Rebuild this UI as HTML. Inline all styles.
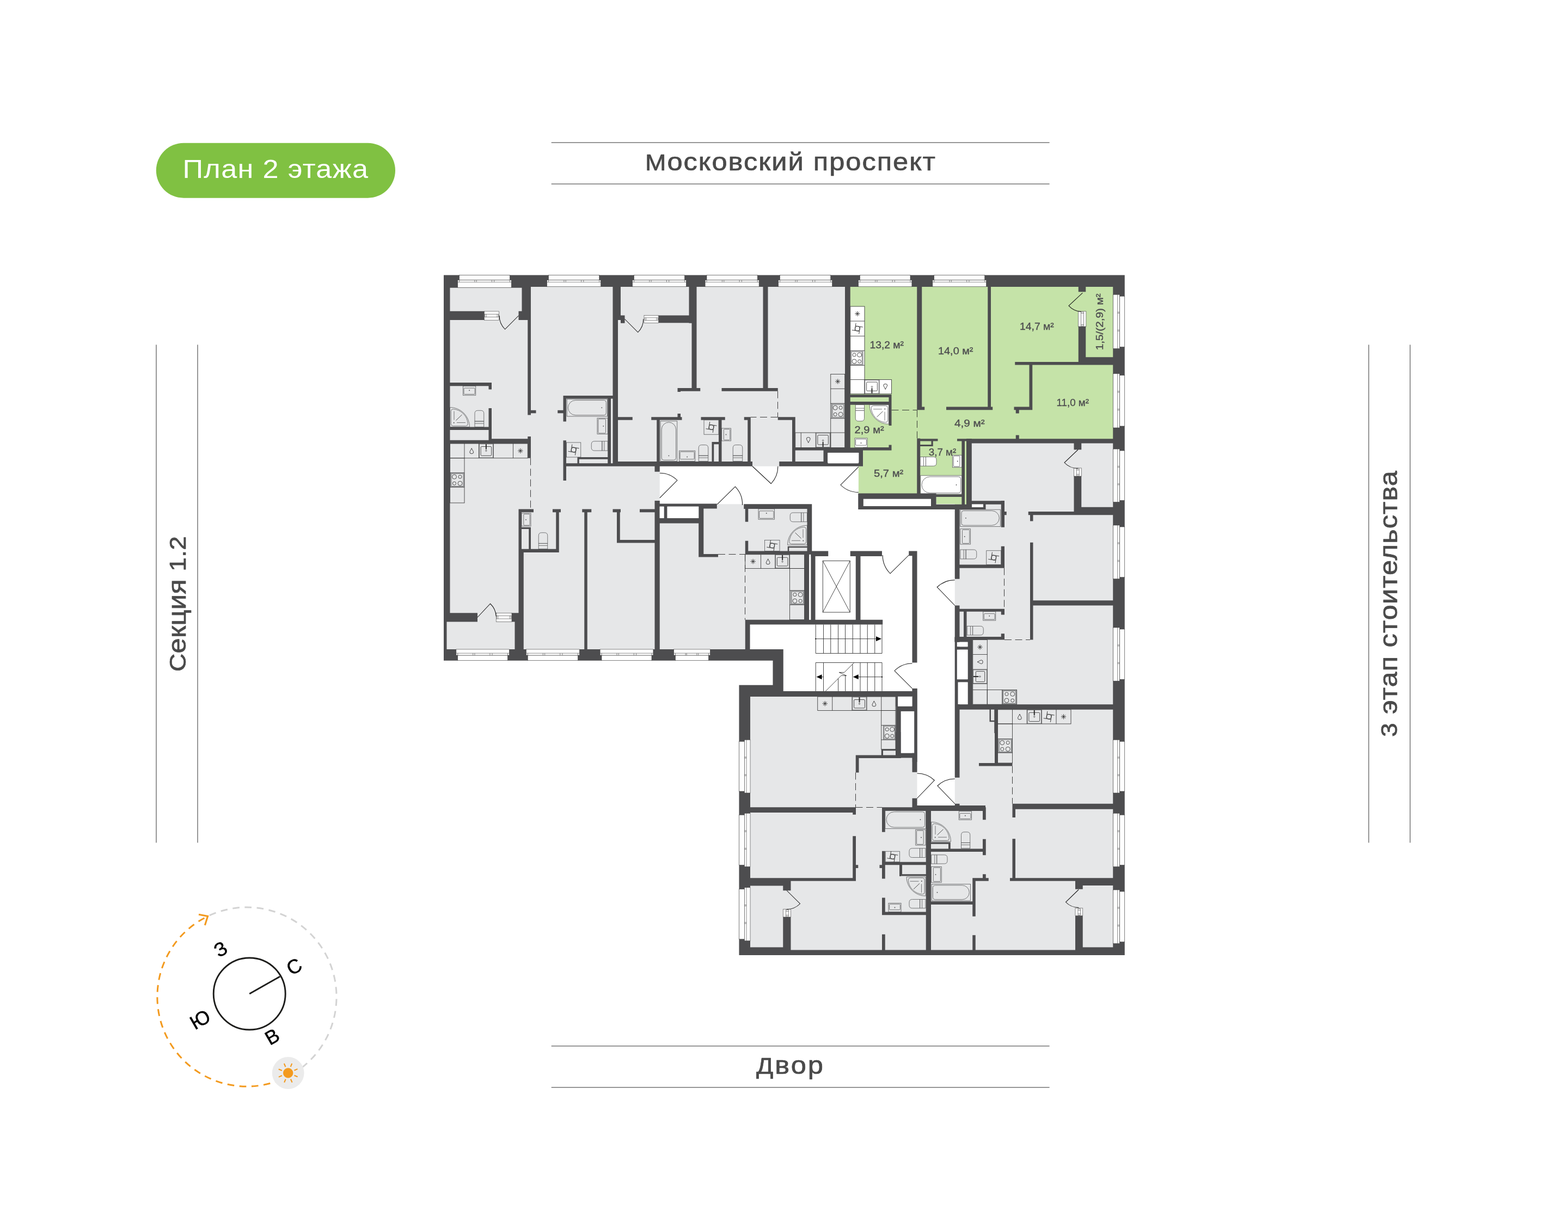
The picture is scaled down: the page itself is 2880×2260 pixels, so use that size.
<!DOCTYPE html>
<html lang="ru"><head><meta charset="utf-8"><title>План 2 этажа</title>
<style>
html,body{margin:0;padding:0;background:#fff;}
body{width:2880px;height:2260px;overflow:hidden;font-family:"Liberation Sans",sans-serif;}
svg{display:block;will-change:transform;}
</style></head><body>
<svg width="2880" height="2260" viewBox="0 0 2880 2260">
<rect width="2880" height="2260" fill="#fff"/>
<g id="labels" font-family="'Liberation Sans', sans-serif" font-size="46" fill="#4a4a4a" stroke="#4a4a4a" stroke-width="0.7" stroke-linejoin="round">
<rect x="286.8" y="262.7" width="439.2" height="101" rx="50.5" fill="#80c142" stroke="none"/>
<text transform="translate(335.5 327.2) scale(1.1 1)" font-size="47.5" fill="#fff" stroke="none" textLength="309.55" lengthAdjust="spacing">План 2 этажа</text>
<rect x="1012.7" y="261.1" width="914.9" height="1.8" fill="#8c8c8c" stroke="none"/>
<rect x="1012.7" y="337.1" width="914.9" height="1.8" fill="#8c8c8c" stroke="none"/>
<rect x="1012.7" y="1921.1" width="914.9" height="1.8" fill="#8c8c8c" stroke="none"/>
<rect x="1012.7" y="1997.1" width="914.9" height="1.8" fill="#8c8c8c" stroke="none"/>
<text transform="translate(1185 313) scale(1.1 1)" textLength="484.55" lengthAdjust="spacing"><tspan font-size="42">М</tspan>осковский проспект</text>
<text transform="translate(1389 1972.8) scale(1.1 1)" textLength="111.82" lengthAdjust="spacing"><tspan font-size="42">Д</tspan>вор</text>
<rect x="286.1" y="633.4" width="1.8" height="915" fill="#8c8c8c" stroke="none"/>
<rect x="362.1" y="633.4" width="1.8" height="915" fill="#8c8c8c" stroke="none"/>
<rect x="2513.1" y="633.4" width="1.8" height="915" fill="#8c8c8c" stroke="none"/>
<rect x="2589.1" y="633.4" width="1.8" height="915" fill="#8c8c8c" stroke="none"/>
<text transform="translate(341 1234) rotate(-90) scale(1.1 1)" textLength="226.36" lengthAdjust="spacing"><tspan font-size="42">С</tspan>екция <tspan font-size="42">1.2</tspan></text>
<text transform="translate(2565.5 1354) rotate(-90) scale(1.1 1)" textLength="444.55" lengthAdjust="spacing"><tspan font-size="42">3</tspan> этап стоительства</text>
</g>
<g id="compass" fill="none">
<path d="M381.33 1683.67A164.6 164.6 0 0 1 531.83 1976.37" stroke="#d3d3d3" stroke-width="3" stroke-dasharray="12.6 9.6" stroke-dashoffset="-4"/>
<path d="M531.83 1976.37A164.6 164.6 0 1 1 381.33 1683.67" stroke="#f39a1e" stroke-width="3" stroke-dasharray="12.6 9.6" stroke-dashoffset="6"/>
<path d="M365 1680.2L381.6 1683.4L376.4 1700" stroke="#f39a1e" stroke-width="3.1" stroke-linecap="butt" stroke-linejoin="miter"/>
<circle cx="529.2" cy="1971.5" r="29.4" fill="#ebebeb"/>
<circle cx="529.2" cy="1971.5" r="9.2" fill="#f39a1e"/>
<path d="M540.51 1976.07L546.63 1978.54M533.97 1982.73L536.55 1988.81M524.63 1982.81L522.16 1988.93M517.97 1976.27L511.89 1978.85M517.89 1966.93L511.77 1964.46M524.43 1960.27L521.85 1954.19M533.77 1960.19L536.24 1954.07M540.43 1966.73L546.51 1964.15" stroke="#f39a1e" stroke-width="2.1"/>
<circle cx="458.2" cy="1826" r="66" stroke="#1d1d1b" stroke-width="2.9"/>
<line x1="458.2" y1="1826" x2="514.3" y2="1794.2" stroke="#1d1d1b" stroke-width="2.9"/>
</g>
<g id="compass-letters" font-family="'Liberation Sans', sans-serif" font-size="36" fill="#000" stroke="#000" stroke-width="0.5" text-anchor="middle">
<text transform="translate(405 1743.8) rotate(-30)" y="12.8">З</text>
<text transform="translate(540 1775.7) rotate(-30)" y="12.8">С</text>
<text transform="translate(367.4 1872.9) rotate(-30)" y="12.8">Ю</text>
<text transform="translate(499.8 1904.5) rotate(-30)" y="12.8">В</text>
</g>
<g id="fills">
<path d="M815 505.5H2065.75V1755H1357.5V1258.75H1419.5V1213.75H815Z" fill="#e6e7e8"/>
<path d="M1556 520H2050V810H1780V926.8H1719.5V908H1576.8V857H1585V826H1556Z" fill="#c5e3a8"/>
<rect x="1211.75" y="856.75" width="365.05" height="69.5" fill="#fff"/>
<rect x="1487" y="926" width="266.75" height="91" fill="#fff"/>
<rect x="1576" y="1012.5" width="177.75" height="262.5" fill="#fff"/>
<rect x="1684.5" y="1270" width="69.25" height="210" fill="#fff"/>
<rect x="1493" y="1017" width="83" height="126" fill="#fff"/>
<rect x="1377.5" y="1143" width="302.5" height="132" fill="#fff"/>
</g>
<g id="fixtures" stroke="#58595b" stroke-width="0.8" fill="none">
<rect x="826.5" y="815" width="142.75" height="26.75" fill="none" stroke="#2a2a2a"/>
<line x1="853" y1="815" x2="853" y2="841.75" stroke="#2a2a2a"/>
<line x1="879.5" y1="815" x2="879.5" y2="841.75" stroke="#2a2a2a"/>
<line x1="906.25" y1="815" x2="906.25" y2="841.75" stroke="#2a2a2a"/>
<line x1="942.5" y1="815" x2="942.5" y2="841.75" stroke="#2a2a2a"/>
<rect x="826.5" y="841.75" width="26.5" height="82.25" fill="none" stroke="#2a2a2a"/>
<line x1="826.5" y1="868.75" x2="853" y2="868.75" stroke="#2a2a2a"/>
<line x1="826.5" y1="895" x2="853" y2="895" stroke="#2a2a2a"/>
<path d="M866.25 823.58C867.45 826.88 869.65 829.17 869.65 830.98A3.4 2.6 0 0 1 862.85 830.98C862.85 829.17 865.05 826.88 866.25 823.58Z" fill="none" stroke="#2a2a2a" stroke-width="0.9"/>
<rect x="880.3" y="815.8" width="25.15" height="25.15" fill="none"/><rect x="883.1" y="820.5" width="19.55" height="16.75" rx="1.5" fill="none" stroke="#2a2a2a"/><line x1="892.88" y1="816" x2="892.88" y2="825.5" stroke="#2a2a2a" stroke-width="2"/><path d="M892.88 826.5l1.3 1.6l-1.3 1.6l-1.3 -1.6Z" fill="none" stroke="#2a2a2a" stroke-width="0.7"/>
<path d="M951.27 828.38L960.48 828.38M952.62 825.12L959.13 831.63M955.88 823.77L955.88 832.98M959.13 825.12L952.62 831.63" fill="none" stroke="#2a2a2a" stroke-width="0.9"/>
<rect x="827.5" y="868.75" width="25" height="26.25" fill="none"/><rect x="829" y="870.25" width="22" height="23.25" fill="none"/><circle cx="845" cy="876.1" r="3.1" fill="none" stroke="#2a2a2a"/><circle cx="834.5" cy="876.1" r="4" fill="none" stroke="#2a2a2a"/><circle cx="845" cy="888.17" r="4" fill="none" stroke="#2a2a2a"/><circle cx="834.5" cy="888.17" r="3.1" fill="none" stroke="#2a2a2a"/>
<rect x="1525.75" y="687.5" width="26" height="135" fill="none" stroke="#2a2a2a"/>
<line x1="1525.75" y1="714.25" x2="1551.75" y2="714.25" stroke="#2a2a2a"/>
<line x1="1525.75" y1="741.25" x2="1551.75" y2="741.25" stroke="#2a2a2a"/>
<line x1="1525.75" y1="768.75" x2="1551.75" y2="768.75" stroke="#2a2a2a"/>
<line x1="1525.75" y1="795" x2="1551.75" y2="795" stroke="#2a2a2a"/>
<rect x="1460.75" y="795" width="65" height="27.5" fill="none" stroke="#2a2a2a"/>
<line x1="1471.25" y1="795" x2="1471.25" y2="822.5" stroke="#2a2a2a"/>
<line x1="1498.25" y1="795" x2="1498.25" y2="822.5" stroke="#2a2a2a"/>
<path d="M1534.15 700.88L1543.35 700.88M1535.5 697.62L1542 704.13M1538.75 696.27L1538.75 705.48M1542 697.62L1535.5 704.13" fill="none" stroke="#2a2a2a" stroke-width="0.9"/>
<rect x="1527.5" y="741.75" width="23.75" height="26.5" fill="none"/><rect x="1529" y="743.25" width="20.75" height="23.5" fill="none"/><circle cx="1544.12" cy="749.17" r="3.1" fill="none" stroke="#2a2a2a"/><circle cx="1534.15" cy="749.17" r="4" fill="none" stroke="#2a2a2a"/><circle cx="1544.12" cy="761.36" r="4" fill="none" stroke="#2a2a2a"/><circle cx="1534.15" cy="761.36" r="3.1" fill="none" stroke="#2a2a2a"/>
<g transform="rotate(180 1484.75 808.75)"><path d="M1484.75 803.95C1485.95 807.25 1488.15 809.55 1488.15 811.35A3.4 2.6 0 0 1 1481.35 811.35C1481.35 809.55 1483.55 807.25 1484.75 803.95Z" fill="none" stroke="#2a2a2a" stroke-width="0.9"/></g>
<g transform="rotate(180 1511.62 808.75)"><rect x="1499.05" y="795.8" width="25.15" height="25.9" fill="none"/><rect x="1501.85" y="800.5" width="19.55" height="17.5" rx="1.5" fill="none" stroke="#2a2a2a"/><line x1="1511.62" y1="796" x2="1511.62" y2="805.5" stroke="#2a2a2a" stroke-width="2"/><path d="M1511.62 806.5l1.3 1.6l-1.3 1.6l-1.3 -1.6Z" fill="none" stroke="#2a2a2a" stroke-width="0.7"/></g>
<rect x="1561.75" y="563" width="26.25" height="160.75" fill="#fff" stroke="#2a2a2a"/>
<line x1="1561.75" y1="590" x2="1588" y2="590" stroke="#2a2a2a"/>
<line x1="1561.75" y1="617.5" x2="1588" y2="617.5" stroke="#2a2a2a"/>
<line x1="1561.75" y1="644.25" x2="1588" y2="644.25" stroke="#2a2a2a"/>
<line x1="1561.75" y1="671.25" x2="1588" y2="671.25" stroke="#2a2a2a"/>
<line x1="1561.75" y1="697.5" x2="1588" y2="697.5" stroke="#2a2a2a"/>
<rect x="1588" y="697.5" width="49.5" height="26.25" fill="#fff" stroke="#2a2a2a"/>
<line x1="1615" y1="697.5" x2="1615" y2="723.75" stroke="#2a2a2a"/>
<path d="M1570.28 576.5L1579.47 576.5M1571.62 573.25L1578.13 579.75M1574.88 571.9L1574.88 581.1M1578.13 573.25L1571.62 579.75" fill="none" stroke="#2a2a2a" stroke-width="0.9"/>
<g transform="rotate(9 1574.88 603.75)"><g stroke="#2a2a2a" fill="none" stroke-width="0.85"><path d="M1570.58 594.35V608.05M1570.58 599.45H1584.28M1579.17 599.45V613.15M1579.17 608.05H1565.47"/><circle cx="1574.88" cy="603.75" r="4.3"/></g></g>
<rect x="1562.25" y="644.75" width="22.75" height="26" fill="#fff"/><rect x="1563.75" y="646.25" width="19.75" height="23" fill="none"/><circle cx="1569.08" cy="652.03" r="3.1" fill="none" stroke="#2a2a2a"/><circle cx="1578.63" cy="652.03" r="4" fill="none" stroke="#2a2a2a"/><circle cx="1569.08" cy="663.99" r="4" fill="none" stroke="#2a2a2a"/><circle cx="1578.63" cy="663.99" r="3.1" fill="none" stroke="#2a2a2a"/>
<g transform="rotate(180 1601.5 710.62)"><rect x="1588.8" y="698.3" width="25.4" height="24.65" fill="#fff"/><rect x="1591.6" y="703" width="19.8" height="16.25" rx="1.5" fill="none" stroke="#2a2a2a"/><line x1="1601.5" y1="698.5" x2="1601.5" y2="708" stroke="#2a2a2a" stroke-width="2"/><path d="M1601.5 709l1.3 1.6l-1.3 1.6l-1.3 -1.6Z" fill="none" stroke="#2a2a2a" stroke-width="0.7"/></g>
<g transform="rotate(180 1626.25 710.62)"><path d="M1626.25 705.83C1627.45 709.12 1629.65 711.42 1629.65 713.23A3.4 2.6 0 0 1 1622.85 713.23C1622.85 711.42 1625.05 709.12 1626.25 705.83Z" fill="none" stroke="#2a2a2a" stroke-width="0.9"/></g>
<rect x="1368.75" y="1018.75" width="108.75" height="25.75" fill="none" stroke="#2a2a2a"/>
<line x1="1397.5" y1="1018.75" x2="1397.5" y2="1044.5" stroke="#2a2a2a"/>
<line x1="1423.75" y1="1018.75" x2="1423.75" y2="1044.5" stroke="#2a2a2a"/>
<line x1="1450.5" y1="1018.75" x2="1450.5" y2="1044.5" stroke="#2a2a2a"/>
<rect x="1450.5" y="1044.5" width="27" height="94.25" fill="none" stroke="#2a2a2a"/>
<line x1="1450.5" y1="1085" x2="1477.5" y2="1085" stroke="#2a2a2a"/>
<line x1="1450.5" y1="1111.25" x2="1477.5" y2="1111.25" stroke="#2a2a2a"/>
<path d="M1378.53 1031.62L1387.72 1031.62M1379.87 1028.37L1386.38 1034.88M1383.12 1027.03L1383.12 1036.22M1386.38 1028.37L1379.87 1034.88" fill="none" stroke="#2a2a2a" stroke-width="0.9"/>
<path d="M1410.62 1026.83C1411.83 1030.12 1414.03 1032.42 1414.03 1034.22A3.4 2.6 0 0 1 1407.22 1034.22C1407.22 1032.42 1409.42 1030.12 1410.62 1026.83Z" fill="none" stroke="#2a2a2a" stroke-width="0.9"/>
<rect x="1424.55" y="1019.55" width="25.15" height="24.15" fill="none"/><rect x="1427.35" y="1024.25" width="19.55" height="15.75" rx="1.5" fill="none" stroke="#2a2a2a"/><line x1="1437.12" y1="1019.75" x2="1437.12" y2="1029.25" stroke="#2a2a2a" stroke-width="2"/><path d="M1437.12 1030.25l1.3 1.6l-1.3 1.6l-1.3 -1.6Z" fill="none" stroke="#2a2a2a" stroke-width="0.7"/>
<rect x="1452.5" y="1085.5" width="24.5" height="25.25" fill="none"/><rect x="1454" y="1087" width="21.5" height="22.25" fill="none"/><circle cx="1459.85" cy="1092.57" r="3.1" fill="none" stroke="#2a2a2a"/><circle cx="1470.14" cy="1092.57" r="4" fill="none" stroke="#2a2a2a"/><circle cx="1459.85" cy="1104.18" r="4" fill="none" stroke="#2a2a2a"/><circle cx="1470.14" cy="1104.18" r="3.1" fill="none" stroke="#2a2a2a"/>
<rect x="1501.75" y="1280" width="143.25" height="25.5" fill="none" stroke="#2a2a2a"/>
<line x1="1528.75" y1="1280" x2="1528.75" y2="1305.5" stroke="#2a2a2a"/>
<line x1="1565" y1="1280" x2="1565" y2="1305.5" stroke="#2a2a2a"/>
<line x1="1592" y1="1280" x2="1592" y2="1305.5" stroke="#2a2a2a"/>
<line x1="1618.75" y1="1280" x2="1618.75" y2="1305.5" stroke="#2a2a2a"/>
<rect x="1618.75" y="1305.5" width="26.25" height="71.25" fill="none" stroke="#2a2a2a"/>
<line x1="1618.75" y1="1332.75" x2="1645" y2="1332.75" stroke="#2a2a2a"/>
<line x1="1618.75" y1="1359.25" x2="1645" y2="1359.25" stroke="#2a2a2a"/>
<path d="M1510.65 1292.75L1519.85 1292.75M1512 1289.5L1518.5 1296M1515.25 1288.15L1515.25 1297.35M1518.5 1289.5L1512 1296" fill="none" stroke="#2a2a2a" stroke-width="0.9"/>
<rect x="1565.8" y="1280.8" width="25.4" height="23.9" fill="none"/><rect x="1568.6" y="1285.5" width="19.8" height="15.5" rx="1.5" fill="none" stroke="#2a2a2a"/><line x1="1578.5" y1="1281" x2="1578.5" y2="1290.5" stroke="#2a2a2a" stroke-width="2"/><path d="M1578.5 1291.5l1.3 1.6l-1.3 1.6l-1.3 -1.6Z" fill="none" stroke="#2a2a2a" stroke-width="0.7"/>
<path d="M1605.38 1287.95C1606.58 1291.25 1608.78 1293.55 1608.78 1295.35A3.4 2.6 0 0 1 1601.97 1295.35C1601.97 1293.55 1604.17 1291.25 1605.38 1287.95Z" fill="none" stroke="#2a2a2a" stroke-width="0.9"/>
<rect x="1622.5" y="1332.75" width="22.5" height="26.5" fill="none"/><rect x="1624" y="1334.25" width="19.5" height="23.5" fill="none"/><circle cx="1629.25" cy="1340.17" r="3.1" fill="none" stroke="#2a2a2a"/><circle cx="1638.7" cy="1340.17" r="4" fill="none" stroke="#2a2a2a"/><circle cx="1629.25" cy="1352.36" r="4" fill="none" stroke="#2a2a2a"/><circle cx="1638.7" cy="1352.36" r="3.1" fill="none" stroke="#2a2a2a"/>
<rect x="1786.75" y="1175.5" width="26.5" height="118.75" fill="none" stroke="#2a2a2a"/>
<line x1="1786.75" y1="1202.5" x2="1813.25" y2="1202.5" stroke="#2a2a2a"/>
<line x1="1786.75" y1="1230" x2="1813.25" y2="1230" stroke="#2a2a2a"/>
<line x1="1786.75" y1="1256.25" x2="1813.25" y2="1256.25" stroke="#2a2a2a"/>
<line x1="1786.75" y1="1267.5" x2="1813.25" y2="1267.5" stroke="#2a2a2a"/>
<rect x="1813.25" y="1267.5" width="54.25" height="26.75" fill="none" stroke="#2a2a2a"/>
<line x1="1840.75" y1="1267.5" x2="1840.75" y2="1294.25" stroke="#2a2a2a"/>
<path d="M1795.4 1189L1804.6 1189M1796.75 1185.75L1803.25 1192.25M1800 1184.4L1800 1193.6M1803.25 1185.75L1796.75 1192.25" fill="none" stroke="#2a2a2a" stroke-width="0.9"/>
<g transform="rotate(-90 1800 1216.25)"><path d="M1800 1211.45C1801.2 1214.75 1803.4 1217.05 1803.4 1218.85A3.4 2.6 0 0 1 1796.6 1218.85C1796.6 1217.05 1798.8 1214.75 1800 1211.45Z" fill="none" stroke="#2a2a2a" stroke-width="0.9"/></g>
<g transform="rotate(270 1800 1243.12)"><rect x="1787.67" y="1230.67" width="24.65" height="24.9" fill="none"/><rect x="1790.47" y="1235.38" width="19.05" height="16.5" rx="1.5" fill="none" stroke="#2a2a2a"/><line x1="1800" y1="1230.88" x2="1800" y2="1240.38" stroke="#2a2a2a" stroke-width="2"/><path d="M1800 1241.38l1.3 1.6l-1.3 1.6l-1.3 -1.6Z" fill="none" stroke="#2a2a2a" stroke-width="0.7"/></g>
<rect x="1841.25" y="1268" width="25.75" height="25.75" fill="none"/><rect x="1842.75" y="1269.5" width="22.75" height="22.75" fill="none"/><circle cx="1848.97" cy="1275.21" r="3.1" fill="none" stroke="#2a2a2a"/><circle cx="1859.79" cy="1275.21" r="4" fill="none" stroke="#2a2a2a"/><circle cx="1848.97" cy="1287.06" r="4" fill="none" stroke="#2a2a2a"/><circle cx="1859.79" cy="1287.06" r="3.1" fill="none" stroke="#2a2a2a"/>
<rect x="1832.5" y="1303.75" width="134.5" height="26.25" fill="none" stroke="#2a2a2a"/>
<line x1="1859.5" y1="1303.75" x2="1859.5" y2="1330" stroke="#2a2a2a"/>
<line x1="1886.25" y1="1303.75" x2="1886.25" y2="1330" stroke="#2a2a2a"/>
<line x1="1913.25" y1="1303.75" x2="1913.25" y2="1330" stroke="#2a2a2a"/>
<line x1="1940" y1="1303.75" x2="1940" y2="1330" stroke="#2a2a2a"/>
<rect x="1832.5" y="1330" width="27" height="72" fill="none" stroke="#2a2a2a"/>
<line x1="1832.5" y1="1357.5" x2="1859.5" y2="1357.5" stroke="#2a2a2a"/>
<line x1="1832.5" y1="1383" x2="1859.5" y2="1383" stroke="#2a2a2a"/>
<path d="M1872.88 1312.08C1874.08 1315.38 1876.28 1317.67 1876.28 1319.47A3.4 2.6 0 0 1 1869.47 1319.47C1869.47 1317.67 1871.67 1315.38 1872.88 1312.08Z" fill="none" stroke="#2a2a2a" stroke-width="0.9"/>
<rect x="1887.05" y="1304.55" width="25.4" height="24.65" fill="none"/><rect x="1889.85" y="1309.25" width="19.8" height="16.25" rx="1.5" fill="none" stroke="#2a2a2a"/><line x1="1899.75" y1="1304.75" x2="1899.75" y2="1314.25" stroke="#2a2a2a" stroke-width="2"/><path d="M1899.75 1315.25l1.3 1.6l-1.3 1.6l-1.3 -1.6Z" fill="none" stroke="#2a2a2a" stroke-width="0.7"/>
<g transform="rotate(9 1926.62 1316.88)"><g stroke="#2a2a2a" fill="none" stroke-width="0.85"><path d="M1922.33 1307.47V1321.17M1922.33 1312.58H1936.03M1930.92 1312.58V1326.28M1930.92 1321.17H1917.22"/><circle cx="1926.62" cy="1316.88" r="4.3"/></g></g>
<path d="M1948.9 1316.88L1958.1 1316.88M1950.25 1313.62L1956.75 1320.13M1953.5 1312.28L1953.5 1321.47M1956.75 1313.62L1950.25 1320.13" fill="none" stroke="#2a2a2a" stroke-width="0.9"/>
<rect x="1833.75" y="1357.5" width="25" height="25.5" fill="none"/><rect x="1835.25" y="1359" width="22" height="22.5" fill="none"/><circle cx="1851.25" cy="1364.64" r="3.1" fill="none" stroke="#2a2a2a"/><circle cx="1840.75" cy="1364.64" r="4" fill="none" stroke="#2a2a2a"/><circle cx="1851.25" cy="1376.37" r="4" fill="none" stroke="#2a2a2a"/><circle cx="1840.75" cy="1376.37" r="3.1" fill="none" stroke="#2a2a2a"/>
<rect x="850.5" y="709.25" width="23.25" height="17" fill="none"/><rect x="852.1" y="713.05" width="20.05" height="11.4" rx="1.2" fill="none"/><circle cx="862.12" cy="717.25" r="0.9" fill="#4d4d4f" stroke="none"/>
<path d="M826.5 748.5A36 36 0 0 1 862.5 784.5H826.5Z" fill="none"/><path d="M832.3 751.7A28.8 28.8 0 0 1 859.3 778.7Q859.3 782.7 855.3 782.7H832.3Q828.3 782.7 828.3 778.7V755.7Q828.3 751.7 832.3 751.7Z" fill="none"/><line x1="834" y1="755.5" x2="834" y2="771.5"/><line x1="839" y1="776.5" x2="855" y2="776.5"/><line x1="837.5" y1="772.5" x2="848.5" y2="762" stroke="#2a2a2a"/><circle cx="833.7" cy="776.7" r="1" fill="#4d4d4f" stroke="none"/>
<path d="M872 774.06V759.75Q872 754.25 877.5 754.25H883.25Q888.75 754.25 888.75 759.75V774.06Z" fill="none"/><rect x="872" y="774.06" width="16.75" height="10.44" fill="none"/><line x1="872" y1="778.03" x2="888.75" y2="778.03"/>
<rect x="1041.25" y="733.25" width="74.25" height="31.75" fill="none"/><path d="M1057.12 735.45H1109.3Q1113.3 735.45 1113.3 739.45V758.8Q1113.3 762.8 1109.3 762.8H1057.12A13.67 13.67 0 0 1 1057.12 735.45Z" fill="none"/><circle cx="1105.3" cy="749.12" r="0.9" fill="#4d4d4f" stroke="none"/>
<g transform="rotate(90 1106.62 782.88)"><rect x="1092" y="773.25" width="29.25" height="19.25" fill="none"/><rect x="1093.6" y="777.05" width="26.05" height="13.65" rx="1.2" fill="none"/><circle cx="1106.62" cy="781.25" r="0.9" fill="#4d4d4f" stroke="none"/></g>
<g transform="rotate(270 1101.25 819.38)"><path d="M1092.62 824.02V809.88Q1092.62 804.38 1098.12 804.38H1104.38Q1109.88 804.38 1109.88 809.88V824.02Z" fill="none"/><rect x="1092.62" y="824.02" width="17.25" height="10.35" fill="none"/><line x1="1092.62" y1="827.96" x2="1109.88" y2="827.96"/></g>
<rect x="1040.5" y="813" width="26.25" height="27" fill="none"/><g transform="rotate(9 1053.62 826.5)"><g stroke="#2a2a2a" fill="none" stroke-width="0.85"><path d="M1049.33 817.1V830.8M1049.33 822.2H1063.03M1057.92 822.2V835.9M1057.92 830.8H1044.22"/><circle cx="1053.62" cy="826.5" r="4.3"/></g></g>
<g transform="rotate(90 1228.38 810.62)"><rect x="1191.5" y="795.25" width="73.75" height="30.75" fill="none"/><path d="M1206.88 797.45H1259.05Q1263.05 797.45 1263.05 801.45V819.8Q1263.05 823.8 1259.05 823.8H1206.88A13.17 13.17 0 0 1 1206.88 797.45Z" fill="none"/><circle cx="1255.05" cy="810.62" r="0.9" fill="#4d4d4f" stroke="none"/></g>
<g transform="rotate(180 1262.12 837.88)"><rect x="1247.5" y="828.25" width="29.25" height="19.25" fill="none"/><rect x="1249.1" y="832.05" width="26.05" height="13.65" rx="1.2" fill="none"/><circle cx="1262.12" cy="836.25" r="0.9" fill="#4d4d4f" stroke="none"/></g>
<path d="M1283.25 837.15V823Q1283.25 817.5 1288.75 817.5H1295.25Q1300.75 817.5 1300.75 823V837.15Z" fill="none"/><rect x="1283.25" y="837.15" width="17.5" height="10.35" fill="none"/><line x1="1283.25" y1="841.08" x2="1300.75" y2="841.08"/>
<rect x="1293" y="771.75" width="27" height="26.5" fill="none"/><g transform="rotate(189 1306.5 785)"><g stroke="#2a2a2a" fill="none" stroke-width="0.85"><path d="M1302.2 775.6V789.3M1302.2 780.7H1315.9M1310.8 780.7V794.4M1310.8 789.3H1297.1"/><circle cx="1306.5" cy="785" r="4.3"/></g></g>
<g transform="rotate(270 1334 798.5)"><rect x="1322.5" y="790" width="23" height="17" fill="none"/><rect x="1324.1" y="793.8" width="19.8" height="11.4" rx="1.2" fill="none"/><circle cx="1334" cy="798" r="0.9" fill="#4d4d4f" stroke="none"/></g>
<path d="M1346.25 837.15V823Q1346.25 817.5 1351.75 817.5H1358.25Q1363.75 817.5 1363.75 823V837.15Z" fill="none"/><rect x="1346.25" y="837.15" width="17.5" height="10.35" fill="none"/><line x1="1346.25" y1="841.08" x2="1363.75" y2="841.08"/>
<g transform="rotate(180 1579.38 758.75)"><path d="M1571.25 763.4V749.25Q1571.25 743.75 1576.75 743.75H1582Q1587.5 743.75 1587.5 749.25V763.4Z" fill="#fff"/><rect x="1571.25" y="763.4" width="16.25" height="10.35" fill="#fff"/><line x1="1571.25" y1="767.33" x2="1587.5" y2="767.33"/></g>
<g transform="translate(3265 1487.5) scale(-1 -1)"><path d="M1632.5 708.25A35.5 35.5 0 0 1 1668 743.75H1632.5Z" fill="#fff"/><path d="M1638.3 711.45A28.3 28.3 0 0 1 1664.8 737.95Q1664.8 741.95 1660.8 741.95H1638.3Q1634.3 741.95 1634.3 737.95V715.45Q1634.3 711.45 1638.3 711.45Z" fill="none"/><line x1="1640" y1="714.75" x2="1640" y2="730.75"/><line x1="1645" y1="735.75" x2="1661" y2="735.75"/><line x1="1643.5" y1="731.75" x2="1654.5" y2="721.25" stroke="#2a2a2a"/><circle cx="1639.7" cy="735.95" r="1" fill="#4d4d4f" stroke="none"/></g>
<g transform="rotate(180 1581.5 813.5)"><rect x="1570" y="805" width="23" height="17" fill="#fff"/><rect x="1571.6" y="808.8" width="19.8" height="11.4" rx="1.2" fill="none"/><circle cx="1581.5" cy="813" r="0.9" fill="#4d4d4f" stroke="none"/></g>
<g transform="rotate(90 1705 847.88)"><path d="M1696.62 852.52V838.38Q1696.62 832.88 1702.12 832.88H1707.88Q1713.38 832.88 1713.38 838.38V852.52Z" fill="#fff"/><rect x="1696.62" y="852.52" width="16.75" height="10.35" fill="#fff"/><line x1="1696.62" y1="856.46" x2="1713.38" y2="856.46"/></g>
<g transform="rotate(90 1758.12 847.5)"><rect x="1746.88" y="838.88" width="22.5" height="17.25" fill="#fff"/><rect x="1748.47" y="842.67" width="19.3" height="11.65" rx="1.2" fill="none"/><circle cx="1758.12" cy="846.88" r="0.9" fill="#4d4d4f" stroke="none"/></g>
<rect x="1690.75" y="873.75" width="76" height="34.25" fill="#fff"/><path d="M1707.88 875.95H1760.55Q1764.55 875.95 1764.55 879.95V901.8Q1764.55 905.8 1760.55 905.8H1707.88A14.92 14.92 0 0 1 1707.88 875.95Z" fill="none"/><circle cx="1756.55" cy="890.88" r="0.9" fill="#4d4d4f" stroke="none"/>
<g transform="rotate(270 966.5 954.88)"><rect x="954.62" y="946.38" width="23.75" height="17" fill="none"/><rect x="956.23" y="950.17" width="20.55" height="11.4" rx="1.2" fill="none"/><circle cx="966.5" cy="954.38" r="0.9" fill="#4d4d4f" stroke="none"/></g>
<path d="M989.25 998.4V984.25Q989.25 978.75 994.75 978.75H1000.25Q1005.75 978.75 1005.75 984.25V998.4Z" fill="none"/><rect x="989.25" y="998.4" width="16.5" height="10.35" fill="none"/><line x1="989.25" y1="1002.33" x2="1005.75" y2="1002.33"/>
<rect x="1393" y="935" width="29.5" height="19.25" fill="none"/><rect x="1394.6" y="938.8" width="26.3" height="13.65" rx="1.2" fill="none"/><circle cx="1407.75" cy="943" r="0.9" fill="#4d4d4f" stroke="none"/>
<g transform="rotate(270 1466.88 950.38)"><path d="M1458.5 955.22V940.25Q1458.5 934.75 1464 934.75H1469.75Q1475.25 934.75 1475.25 940.25V955.22Z" fill="none"/><rect x="1458.5" y="955.22" width="16.75" height="10.78" fill="none"/><line x1="1458.5" y1="959.32" x2="1475.25" y2="959.32"/></g>
<g transform="translate(2965 0) scale(-1 1)"><path d="M1482.5 965.25A36 36 0 0 1 1518.5 1001.25H1482.5Z" fill="none"/><path d="M1488.3 968.45A28.8 28.8 0 0 1 1515.3 995.45Q1515.3 999.45 1511.3 999.45H1488.3Q1484.3 999.45 1484.3 995.45V972.45Q1484.3 968.45 1488.3 968.45Z" fill="none"/><line x1="1490" y1="972.25" x2="1490" y2="988.25"/><line x1="1495" y1="993.25" x2="1511" y2="993.25"/><line x1="1493.5" y1="989.25" x2="1504.5" y2="978.75" stroke="#2a2a2a"/><circle cx="1489.7" cy="993.45" r="1" fill="#4d4d4f" stroke="none"/></g>
<rect x="1404.5" y="992.5" width="27.5" height="20" fill="none"/><g transform="rotate(9 1418.25 1002.5)"><g stroke="#2a2a2a" fill="none" stroke-width="0.85"><path d="M1413.95 993.1V1006.8M1413.95 998.2H1427.65M1422.55 998.2V1011.9M1422.55 1006.8H1408.85"/><circle cx="1418.25" cy="1002.5" r="4.3"/></g></g>
<g transform="rotate(180 1800.62 951.88)"><rect x="1763.75" y="936.25" width="73.75" height="31.25" fill="none"/><path d="M1779.38 938.45H1831.3Q1835.3 938.45 1835.3 942.45V961.3Q1835.3 965.3 1831.3 965.3H1779.38A13.42 13.42 0 0 1 1779.38 938.45Z" fill="none"/><circle cx="1827.3" cy="951.88" r="0.9" fill="#4d4d4f" stroke="none"/></g>
<g transform="rotate(270 1773.12 985.88)"><rect x="1759" y="976.5" width="28.25" height="18.75" fill="none"/><rect x="1760.6" y="980.3" width="25.05" height="13.15" rx="1.2" fill="none"/><circle cx="1773.12" cy="984.5" r="0.9" fill="#4d4d4f" stroke="none"/></g>
<g transform="rotate(90 1778.75 1018.5)"><path d="M1770.25 1023.15V1009Q1770.25 1003.5 1775.75 1003.5H1781.75Q1787.25 1003.5 1787.25 1009V1023.15Z" fill="none"/><rect x="1770.25" y="1023.15" width="17" height="10.35" fill="none"/><line x1="1770.25" y1="1027.08" x2="1787.25" y2="1027.08"/></g>
<rect x="1811.75" y="1011.75" width="27" height="25.75" fill="none"/><g transform="rotate(9 1825.25 1024.62)"><g stroke="#2a2a2a" fill="none" stroke-width="0.85"><path d="M1820.95 1015.23V1028.92M1820.95 1020.33H1834.65M1829.55 1020.33V1034.03M1829.55 1028.92H1815.85"/><circle cx="1825.25" cy="1024.62" r="4.3"/></g></g>
<rect x="1805.75" y="1123.75" width="23" height="16.25" fill="none"/><rect x="1807.35" y="1127.55" width="19.8" height="10.65" rx="1.2" fill="none"/><circle cx="1817.25" cy="1131.75" r="0.9" fill="#4d4d4f" stroke="none"/>
<g transform="rotate(90 1791.25 1158.75)"><path d="M1783 1163.4V1149.25Q1783 1143.75 1788.5 1143.75H1794Q1799.5 1143.75 1799.5 1149.25V1163.4Z" fill="none"/><rect x="1783" y="1163.4" width="16.5" height="10.35" fill="none"/><line x1="1783" y1="1167.33" x2="1799.5" y2="1167.33"/></g>
<rect x="1625.8" y="1489.5" width="74.9" height="32.9" fill="none"/><path d="M1642.25 1491.7H1694.5Q1698.5 1491.7 1698.5 1495.7V1516.2Q1698.5 1520.2 1694.5 1520.2H1642.25A14.25 14.25 0 0 1 1642.25 1491.7Z" fill="none"/><circle cx="1690.5" cy="1505.95" r="0.9" fill="#4d4d4f" stroke="none"/>
<rect x="1626.25" y="1564.25" width="26.25" height="19.5" fill="none"/><g transform="rotate(9 1639.38 1574)"><g stroke="#2a2a2a" fill="none" stroke-width="0.85"><path d="M1635.08 1564.6V1578.3M1635.08 1569.7H1648.78M1643.67 1569.7V1583.4M1643.67 1578.3H1629.97"/><circle cx="1639.38" cy="1574" r="4.3"/></g></g>
<g transform="rotate(180 1643.5 1667.5)"><rect x="1632" y="1659.5" width="23" height="16" fill="none"/><rect x="1633.6" y="1663.3" width="19.8" height="10.4" rx="1.2" fill="none"/><circle cx="1643.5" cy="1667.5" r="0.9" fill="#4d4d4f" stroke="none"/></g>
<g transform="rotate(90 1690.88 1538.75)"><rect x="1676.62" y="1529.62" width="28.5" height="18.25" fill="none"/><rect x="1678.22" y="1533.42" width="25.3" height="12.65" rx="1.2" fill="none"/><circle cx="1690.88" cy="1537.62" r="0.9" fill="#4d4d4f" stroke="none"/></g>
<g transform="rotate(270 1685 1567.12)"><path d="M1676.62 1571.78V1557.62Q1676.62 1552.12 1682.12 1552.12H1687.88Q1693.38 1552.12 1693.38 1557.62V1571.78Z" fill="none"/><rect x="1676.62" y="1571.78" width="16.75" height="10.35" fill="none"/><line x1="1676.62" y1="1575.71" x2="1693.38" y2="1575.71"/></g>
<g transform="translate(3400 3222.5) scale(-1 -1)"><path d="M1700 1576.25A35 35 0 0 1 1735 1611.25H1700Z" fill="none"/><path d="M1705.8 1579.45A27.8 27.8 0 0 1 1731.8 1605.45Q1731.8 1609.45 1727.8 1609.45H1705.8Q1701.8 1609.45 1701.8 1605.45V1583.45Q1701.8 1579.45 1705.8 1579.45Z" fill="none"/><line x1="1707.5" y1="1582.25" x2="1707.5" y2="1598.25"/><line x1="1712.5" y1="1603.25" x2="1728.5" y2="1603.25"/><line x1="1711" y1="1599.25" x2="1722" y2="1588.75" stroke="#2a2a2a"/><circle cx="1707.2" cy="1603.45" r="1" fill="#4d4d4f" stroke="none"/></g>
<g transform="rotate(270 1685 1660.62)"><path d="M1676.88 1665.28V1651.12Q1676.88 1645.62 1682.38 1645.62H1687.62Q1693.12 1645.62 1693.12 1651.12V1665.28Z" fill="none"/><rect x="1676.88" y="1665.28" width="16.25" height="10.35" fill="none"/><line x1="1676.88" y1="1669.21" x2="1693.12" y2="1669.21"/></g>
<rect x="1761.25" y="1490.75" width="23.25" height="15.5" fill="none"/><rect x="1762.85" y="1494.55" width="20.05" height="9.9" rx="1.2" fill="none"/><circle cx="1772.88" cy="1498.75" r="0.9" fill="#4d4d4f" stroke="none"/>
<path d="M1710.5 1510.25A36 36 0 0 1 1746.5 1546.25H1710.5Z" fill="none"/><path d="M1716.3 1513.45A28.8 28.8 0 0 1 1743.3 1540.45Q1743.3 1544.45 1739.3 1544.45H1716.3Q1712.3 1544.45 1712.3 1540.45V1517.45Q1712.3 1513.45 1716.3 1513.45Z" fill="none"/><line x1="1718" y1="1517.25" x2="1718" y2="1533.25"/><line x1="1723" y1="1538.25" x2="1739" y2="1538.25"/><line x1="1721.5" y1="1534.25" x2="1732.5" y2="1523.75" stroke="#2a2a2a"/><circle cx="1717.7" cy="1538.45" r="1" fill="#4d4d4f" stroke="none"/>
<path d="M1765.5 1548.4V1534.25Q1765.5 1528.75 1771 1528.75H1776.25Q1781.75 1528.75 1781.75 1534.25V1548.4Z" fill="none"/><rect x="1765.5" y="1548.4" width="16.25" height="10.35" fill="none"/><line x1="1765.5" y1="1552.33" x2="1781.75" y2="1552.33"/>
<g transform="rotate(90 1725.25 1578.88)"><path d="M1717.12 1583.45V1569.62Q1717.12 1564.12 1722.62 1564.12H1727.88Q1733.38 1564.12 1733.38 1569.62V1583.45Z" fill="none"/><rect x="1717.12" y="1583.45" width="16.25" height="10.18" fill="none"/><line x1="1717.12" y1="1587.31" x2="1733.38" y2="1587.31"/></g>
<g transform="rotate(270 1719.88 1606.88)"><rect x="1705.5" y="1597.5" width="28.75" height="18.75" fill="none"/><rect x="1707.1" y="1601.3" width="25.55" height="13.15" rx="1.2" fill="none"/><circle cx="1719.88" cy="1605.5" r="0.9" fill="#4d4d4f" stroke="none"/></g>
<g transform="rotate(180 1746.88 1639.75)"><rect x="1711.25" y="1624.5" width="71.25" height="30.5" fill="none"/><path d="M1726.5 1626.7H1776.3Q1780.3 1626.7 1780.3 1630.7V1648.8Q1780.3 1652.8 1776.3 1652.8H1726.5A13.05 13.05 0 0 1 1726.5 1626.7Z" fill="none"/><circle cx="1772.3" cy="1639.75" r="0.9" fill="#4d4d4f" stroke="none"/></g>
</g>
<path id="walls" fill="#4d4d4f" d="M1576.25 906.5H1719.5V936H1576.25ZM1684.7 805.5H1690.2V908.4H1684.7ZM1719.5 908.4H1772V913H1719.5ZM1766.4 810H1772V926.8H1766.4ZM1719.5 926.8H1810.5V936H1719.5ZM1775 806H1784.8V936H1775ZM1784.8 920.3H1844.5V926.8H1784.8ZM1784.8 932H1806V936H1784.8ZM1806 926.8H1810.5V936H1806ZM1211.7 925.4H1316.8V930.7H1211.7ZM1283.2 925.4H1316.8V934.5H1283.2ZM1283.2 925.4H1292.3V1023.5H1283.2ZM1219.5 930.7H1225.6V952.1H1219.5ZM1211.7 952.1H1292.3V961.5H1211.7ZM1286.2 1018H1319V1023.5H1286.2ZM1675.4 1265H1684.8V1400H1675.4ZM1438.75 1270.2H1675.4V1279.2H1438.75ZM1645.3 1279.2H1649V1297.9H1645.3ZM1645.7 1297.9H1684.8V1306.9H1645.7ZM1645.7 1297.9H1654.8V1392.6H1645.7ZM1645.7 1383.6H1684.8V1392.6H1645.7ZM1753.3 1170.5H1786V1179.5H1753.3ZM815 505.5H826.5V1142.5H815ZM815 1142.5H820.5V1213.75H815ZM815 1193H837.5V1213.75H815ZM826 527H959V528.7H826ZM815 505.5H2065.75V527H815ZM2044.25 505.5H2065.75V1755H2044.25ZM1357.5 1745.5H2065.75V1755H1357.5ZM1357.5 1258.75H1378V1755H1357.5ZM1357.5 1258.75H1438.75V1280H1357.5ZM1419.5 1193H1438.75V1280H1419.5ZM815 1193H1438.75V1213.75H815ZM826.5 571.75H889.5V588H826.5ZM952.5 571.75H975V588H952.5ZM958.5 527H975V588H958.5ZM969.25 588H975V762.5H969.25ZM969.25 753.75H984.5V759.25H969.25ZM826.5 703H903V709.25H826.5ZM897.5 703H903V715.5H897.5ZM897.5 750H903V810.5H897.5ZM826.5 784.5H897.5V790H826.5ZM826.5 808.75H897.5V815H826.5ZM897.5 806.25H975V815H897.5ZM969.25 802H975V841.75H969.25ZM1034.5 727H1125.5V732.5H1034.5ZM1034.5 727H1040V774.5H1034.5ZM1024.25 753.75H1034.5V759.25H1024.25ZM1034.5 809.25H1040V883H1034.5ZM1040 851.25H1125.5V856.75H1040ZM1060.5 840H1116.25V843.75H1060.5ZM1060.5 840H1063.75V851.25H1060.5ZM1116.25 732.5H1122V856.75H1116.25ZM1125.5 527H1135V856.75H1125.5ZM1125.5 527H1140V588H1125.5ZM1140 579.5H1147.5V593.75H1140ZM1209.5 579.5H1235V593.25H1209.5ZM1135 766.25H1161.75V771.75H1135ZM1196.25 766.25H1235V771.75H1196.25ZM1206.25 766.25H1211.75V848.75H1206.25ZM1135 848H1235V856.75H1135ZM1202.5 856.75H1211.75V866.75H1202.5ZM1265.5 527H1279.5V593.75H1265.5ZM1270.5 593.75H1279.5V718.75H1270.5ZM1225 579.5H1270.5V593.25H1225ZM1244.5 713H1286.25V718.75H1244.5ZM1244.5 713H1250V720H1244.5ZM1401.5 527H1410.5V718.75H1401.5ZM1325.5 713H1428.75V718.75H1325.5ZM1552 527H1561.75V827.5H1552ZM1244.5 760H1250V766.25H1244.5ZM1225 766.25H1252.5V771.75H1225ZM1287.5 766.25H1331.75V771.75H1287.5ZM1320 771.75H1325.5V848.75H1320ZM1307.5 812H1320V816.25H1307.5ZM1307.5 812H1311.25V848.75H1307.5ZM1366.75 766.25H1378.75V771.75H1366.75ZM1373.25 766.25H1378.75V848.75H1373.25ZM1428.75 766.25H1460.75V771.75H1428.75ZM1455 766.25H1460.75V848.75H1455ZM1225 848H1382V856.75H1225ZM1431.25 848H1520V856.75H1431.25ZM1460.75 822.5H1512.5V827.5H1460.75ZM1512.5 822.5H1585V832H1512.5ZM1512.5 822.5H1520V856.75H1512.5ZM1577.5 822.5H1585V856.75H1577.5ZM1512.5 850H1585V856.75H1512.5ZM1561.75 725H1637.5V730H1561.75ZM1561.75 738H1632.5V743.75H1561.75ZM1632.5 725H1637.5V782H1632.5ZM1585 822H1637.5V827.5H1585ZM1632.5 817.5H1637.5V827.5H1632.5ZM1684.25 527H1693.25V753.25H1684.25ZM1684.25 747.5H1698.25V753.25H1684.25ZM1738 747.5H1823.25V753.25H1738ZM1814.25 527H1820V753.25H1814.25ZM1864.25 665H1981.25V670.5H1864.25ZM1890.5 670.5H1896.25V753.25H1890.5ZM1862.5 747.5H1896.25V753.25H1862.5ZM1865.75 753.25H1871.75V759.5H1865.75ZM1865.75 799.5H1871.75V806.25H1865.75ZM1980.75 600H1994.25V670.5H1980.75ZM1980.75 527H1994.25V536.25H1980.75ZM1980.75 656.25H2065.75V670.5H1980.75ZM1775 806.25H2065.75V814.5H1775ZM1775 806.25H1784.25V922H1775ZM1684.25 806.25H1722.5V810.5H1684.25ZM1684.25 806.25H1690V908.75H1684.25ZM1690 817H1713.75V820H1690ZM1710.5 810.5H1713.75V820H1710.5ZM1758 806.25H1775V810.5H1758ZM1766.75 810.5H1770V908.75H1766.75ZM1972.5 814.5H1986.25V826.25H1972.5ZM1972.5 875H1986.25V922H1972.5ZM826.5 1126.25H877V1142.5H826.5ZM940 1126.25H961.75V1142.5H940ZM945.5 1126.25H961.75V1213.75H945.5ZM952.5 935.5H958V1010H952.5ZM952.5 1008.75H961.75V1193H952.5ZM958 968.75H975V972H958ZM971.25 968.75H975V1010H971.25ZM952.5 935.5H980V941.25H952.5ZM952.5 1008.75H1026.75V1015H952.5ZM1021.25 941.25H1026.75V1015H1021.25ZM1015 935.5H1030V941.25H1015ZM1073.25 941.25H1078.75V1193H1073.25ZM1069.25 935.5H1086.25V941.25H1069.25ZM1125.5 935.5H1140V941.25H1125.5ZM1133 941.25H1138.75V997.5H1133ZM1133 992H1202.5V997.5H1133ZM1175 935.5H1202.5V941.25H1175ZM1202.5 920H1211.75V1193H1202.5ZM1366.25 926.25H1491.25V935H1366.25ZM1482.5 926.25H1491.25V1022.5H1482.5ZM1368.75 935H1374.25V958.75H1368.75ZM1368.75 993.75H1374.25V1018.75H1368.75ZM1368.75 1012.5H1521.25V1018.75H1368.75ZM1477.5 1012.5H1521.25V1022H1477.5ZM1446.75 1003.75H1482.5V1006.25H1446.75ZM1446.75 1003.75H1449.25V1012.5H1446.75ZM1477.5 1018.75H1486.25V1138.75H1477.5ZM1489.25 1018.75H1497.5V1138.75H1489.25ZM1561.75 1012.5H1620V1022H1561.75ZM1571.75 1022H1580.5V1138.75H1571.75ZM1368.75 1138.75H1621.25V1147.5H1368.75ZM1368.75 1138.75H1377.5V1193H1368.75ZM1438.75 1270H1675V1280H1438.75ZM1753.75 935.5H1762.5V1063.75H1753.75ZM1753.75 1112.5H1762.5V1347H1753.75ZM1838.75 920H1845V968.75H1838.75ZM1845 940H1848.75V946.25H1845ZM1838.75 1003.75H1845V1043.75H1838.75ZM1762.5 1037.5H1845V1043.75H1762.5ZM1762.5 1118.75H1845V1123.75H1762.5ZM1838.75 1118.75H1845V1129.5H1838.75ZM1770 1123.75H1775.5V1170H1770ZM1762.5 1170H1845V1175.5H1762.5ZM1838.75 1164.25H1845V1175.5H1838.75ZM1888.75 940H2044.25V946.25H1888.75ZM1892 946.25H1897.5V957.5H1892ZM1972.5 920H1986.25V946.25H1972.5ZM1972.5 931.75H2044.25V946.25H1972.5ZM1892 996.75H1897.5V1175.5H1892ZM1897.5 1103.25H2044.25V1112.5H1897.5ZM1753.75 1294.25H2044.25V1303.75H1753.75ZM1777.5 1170H1786.25V1295H1777.5ZM1757.5 1188.25H1777.5V1193.75H1757.5ZM1757.5 1247.5H1777.5V1253.75H1757.5ZM1826.25 1303.75H1832.5V1347H1826.25ZM1817.5 1303.75H1820V1326.25H1817.5ZM1817.5 1323.75H1826.25V1326.25H1817.5ZM1675.5 1012.5H1684.5V1217.5H1675.5ZM1669.25 1012.5H1684.5V1021.25H1669.25ZM1378 1483.25H1572V1493H1378ZM1566.25 1483.25H1572V1496.75H1566.25ZM1566.25 1536.25H1572V1618.75H1566.25ZM1572 1589.25H1576.25V1595H1572ZM1378 1613.25H1438.75V1627.5H1378ZM1438.75 1613.25H1572V1618.75H1438.75ZM1438.25 1613.25H1452.5V1636.25H1438.25ZM1438.25 1685H1452.5V1755H1438.25ZM1357.5 1740.5H1452.5V1755H1357.5ZM1571.75 1387.5H1645V1393H1571.75ZM1571.75 1387.5H1577.5V1419.5H1571.75ZM1645 1345H1655V1393H1645ZM1618.75 1376.75H1645V1379.25H1618.75ZM1618.75 1376.75H1622V1387.5H1618.75ZM1620 1483.25H1625.75V1528.75H1620ZM1620 1483.25H1655V1489.5H1620ZM1620 1563.75H1625.75V1614.5H1620ZM1615.5 1589.25H1620V1595H1615.5ZM1625.75 1583.75H1655V1589.25H1625.75ZM1652 1589.25H1655V1610H1652ZM1620 1649.5H1625.75V1681.25H1620ZM1620 1675.5H1655V1681.25H1620ZM1620 1716.75H1625.75V1745.5H1620ZM1675.5 1345H1684.5V1418.75H1675.5ZM1675.5 1466.75H1684.5V1488.75H1675.5ZM1753.75 1345H1762.5V1428.75H1753.75ZM1753.75 1476.75H1762.5V1490H1753.75ZM1684.5 1480H1810V1490H1684.5ZM1645 1483.25H1702.5V1490H1645ZM1645 1383.75H1684.5V1392.5H1645ZM1645 1345H1655V1392.5H1645ZM1700.75 1488.75H1710V1745.5H1700.75ZM1805 1483.25H1810.75V1506.25H1805ZM1805 1541.75H1810.75V1571.25H1805ZM1710 1559.5H1810.75V1565H1710ZM1710 1547.5H1745V1550.75H1710ZM1742 1547.5H1745.75V1560H1742ZM1805 1606.25H1810.75V1618.75H1805ZM1786.25 1613.25H1815.75V1618.75H1786.25ZM1786.25 1613.25H1791.75V1683.75H1786.25ZM1710 1656.25H1786.25V1662H1710ZM1786.25 1718.25H1791.75V1745.5H1786.25ZM1798 1402H1859.5V1407.5H1798ZM1827 1345H1832.5V1402H1827ZM1859.5 1476.75H2044.25V1486.75H1859.5ZM1859.5 1476.75H1865V1502H1859.5ZM1859.5 1541.25H1865V1618.75H1859.5ZM1855 1613.25H1976.25V1618.75H1855ZM1975 1613.25H2044.25V1627H1975ZM1975 1613.25H1988.75V1633.75H1975ZM1975 1682.5H1988.75V1755H1975ZM1975 1740.5H2065.75V1755H1975ZM1645 1583.75H1700.75V1589.25H1645ZM1653.75 1589.25H1657V1609.5H1653.75ZM1653.75 1606.25H1700.75V1609.5H1653.75ZM1645 1675.5H1700.75V1681.25H1645Z"/>
<g id="shafts" fill="#fff">
<rect x="1520.6" y="831.8" width="56.2" height="19.6" fill="#fff"/>
<rect x="1585.8" y="916.7" width="124.2" height="13.3" fill="#fff"/>
<rect x="1785" y="926.4" width="21" height="5.6" fill="#fff"/>
<rect x="1211.7" y="930.7" width="7.8" height="21.4" fill="#fff"/>
<rect x="1225.6" y="930.7" width="57.6" height="21.4" fill="#fff"/>
<rect x="1649" y="1279.8" width="26.4" height="17.4" fill="#fff"/>
<rect x="1654.8" y="1306.9" width="24.4" height="76.7" fill="#fff"/>
<rect x="1757.8" y="1179.9" width="19.6" height="8.3" fill="#fff"/>
<rect x="1757.8" y="1193.6" width="19.7" height="54.7" fill="#fff"/>
<rect x="1759.5" y="1253.4" width="18" height="40.6" fill="#fff"/>
<rect x="1486.25" y="1018.75" width="3" height="120" fill="#fff"/>
</g>
<g id="windows" stroke="#3c3c3c" stroke-width="0.6" fill="#fff">
<rect x="843.6" y="505.5" width="92.8" height="9"/>
<rect x="840.7" y="514.5" width="98.6" height="14.1"/>
<line x1="840.7" y1="518.3" x2="939.3" y2="518.3"/>
<line x1="871.9" y1="514.5" x2="871.9" y2="518.3"/>
<line x1="875.15" y1="514.5" x2="875.15" y2="518.3"/>
<line x1="903.46" y1="514.5" x2="903.46" y2="518.3"/>
<line x1="907.63" y1="514.5" x2="907.63" y2="518.3"/>
<line x1="843.6" y1="514.5" x2="843.6" y2="518.3"/>
<line x1="936.4" y1="514.5" x2="936.4" y2="518.3"/>
<rect x="1007.5" y="505.5" width="93.25" height="9"/>
<rect x="1004.6" y="514.5" width="99.05" height="12.3"/>
<line x1="1004.6" y1="518.3" x2="1103.65" y2="518.3"/>
<line x1="1035.94" y1="514.5" x2="1035.94" y2="518.3"/>
<line x1="1039.2" y1="514.5" x2="1039.2" y2="518.3"/>
<line x1="1067.65" y1="514.5" x2="1067.65" y2="518.3"/>
<line x1="1071.84" y1="514.5" x2="1071.84" y2="518.3"/>
<line x1="1007.5" y1="514.5" x2="1007.5" y2="518.3"/>
<line x1="1100.75" y1="514.5" x2="1100.75" y2="518.3"/>
<rect x="1164.5" y="505.5" width="93" height="9"/>
<rect x="1161.6" y="514.5" width="98.8" height="12.3"/>
<line x1="1161.6" y1="518.3" x2="1260.4" y2="518.3"/>
<line x1="1192.87" y1="514.5" x2="1192.87" y2="518.3"/>
<line x1="1196.12" y1="514.5" x2="1196.12" y2="518.3"/>
<line x1="1224.48" y1="514.5" x2="1224.48" y2="518.3"/>
<line x1="1228.67" y1="514.5" x2="1228.67" y2="518.3"/>
<line x1="1164.5" y1="514.5" x2="1164.5" y2="518.3"/>
<line x1="1257.5" y1="514.5" x2="1257.5" y2="518.3"/>
<rect x="1298" y="505.5" width="93.25" height="9"/>
<rect x="1295.1" y="514.5" width="99.05" height="12.3"/>
<line x1="1295.1" y1="518.3" x2="1394.15" y2="518.3"/>
<line x1="1326.44" y1="514.5" x2="1326.44" y2="518.3"/>
<line x1="1329.7" y1="514.5" x2="1329.7" y2="518.3"/>
<line x1="1358.15" y1="514.5" x2="1358.15" y2="518.3"/>
<line x1="1362.34" y1="514.5" x2="1362.34" y2="518.3"/>
<line x1="1298" y1="514.5" x2="1298" y2="518.3"/>
<line x1="1391.25" y1="514.5" x2="1391.25" y2="518.3"/>
<rect x="1432.5" y="505.5" width="93.25" height="9"/>
<rect x="1429.6" y="514.5" width="99.05" height="12.3"/>
<line x1="1429.6" y1="518.3" x2="1528.65" y2="518.3"/>
<line x1="1460.94" y1="514.5" x2="1460.94" y2="518.3"/>
<line x1="1464.2" y1="514.5" x2="1464.2" y2="518.3"/>
<line x1="1492.65" y1="514.5" x2="1492.65" y2="518.3"/>
<line x1="1496.84" y1="514.5" x2="1496.84" y2="518.3"/>
<line x1="1432.5" y1="514.5" x2="1432.5" y2="518.3"/>
<line x1="1525.75" y1="514.5" x2="1525.75" y2="518.3"/>
<rect x="1579.5" y="505.5" width="92.5" height="9"/>
<rect x="1576.6" y="514.5" width="98.3" height="12.3"/>
<line x1="1576.6" y1="518.3" x2="1674.9" y2="518.3"/>
<line x1="1607.71" y1="514.5" x2="1607.71" y2="518.3"/>
<line x1="1610.95" y1="514.5" x2="1610.95" y2="518.3"/>
<line x1="1639.16" y1="514.5" x2="1639.16" y2="518.3"/>
<line x1="1643.33" y1="514.5" x2="1643.33" y2="518.3"/>
<line x1="1579.5" y1="514.5" x2="1579.5" y2="518.3"/>
<line x1="1672" y1="514.5" x2="1672" y2="518.3"/>
<rect x="1715.75" y="505.5" width="93" height="9"/>
<rect x="1712.85" y="514.5" width="98.8" height="12.3"/>
<line x1="1712.85" y1="518.3" x2="1811.65" y2="518.3"/>
<line x1="1744.12" y1="514.5" x2="1744.12" y2="518.3"/>
<line x1="1747.37" y1="514.5" x2="1747.37" y2="518.3"/>
<line x1="1775.73" y1="514.5" x2="1775.73" y2="518.3"/>
<line x1="1779.92" y1="514.5" x2="1779.92" y2="518.3"/>
<line x1="1715.75" y1="514.5" x2="1715.75" y2="518.3"/>
<line x1="1808.75" y1="514.5" x2="1808.75" y2="518.3"/>
<rect x="840.75" y="1204" width="91.75" height="9.75"/>
<rect x="837.85" y="1193" width="97.55" height="11"/>
<line x1="837.85" y1="1200.2" x2="935.4" y2="1200.2"/>
<line x1="868.73" y1="1204" x2="868.73" y2="1200.2"/>
<line x1="871.95" y1="1204" x2="871.95" y2="1200.2"/>
<line x1="899.93" y1="1204" x2="899.93" y2="1200.2"/>
<line x1="904.06" y1="1204" x2="904.06" y2="1200.2"/>
<line x1="840.75" y1="1204" x2="840.75" y2="1200.2"/>
<line x1="932.5" y1="1204" x2="932.5" y2="1200.2"/>
<rect x="969.25" y="1204" width="92.25" height="9.75"/>
<rect x="966.35" y="1193" width="98.05" height="11"/>
<line x1="966.35" y1="1200.2" x2="1064.4" y2="1200.2"/>
<line x1="997.39" y1="1204" x2="997.39" y2="1200.2"/>
<line x1="1000.62" y1="1204" x2="1000.62" y2="1200.2"/>
<line x1="1028.75" y1="1204" x2="1028.75" y2="1200.2"/>
<line x1="1032.9" y1="1204" x2="1032.9" y2="1200.2"/>
<line x1="969.25" y1="1204" x2="969.25" y2="1200.2"/>
<line x1="1061.5" y1="1204" x2="1061.5" y2="1200.2"/>
<rect x="1105" y="1204" width="92" height="9.75"/>
<rect x="1102.1" y="1193" width="97.8" height="11"/>
<line x1="1102.1" y1="1200.2" x2="1199.9" y2="1200.2"/>
<line x1="1133.06" y1="1204" x2="1133.06" y2="1200.2"/>
<line x1="1136.28" y1="1204" x2="1136.28" y2="1200.2"/>
<line x1="1164.34" y1="1204" x2="1164.34" y2="1200.2"/>
<line x1="1168.48" y1="1204" x2="1168.48" y2="1200.2"/>
<line x1="1105" y1="1204" x2="1105" y2="1200.2"/>
<line x1="1197" y1="1204" x2="1197" y2="1200.2"/>
<rect x="1240.5" y="1204" width="61" height="9.75"/>
<rect x="1237.6" y="1193" width="66.8" height="11"/>
<line x1="1237.6" y1="1200.2" x2="1304.4" y2="1200.2"/>
<line x1="1259.11" y1="1204" x2="1259.11" y2="1200.2"/>
<line x1="1261.24" y1="1204" x2="1261.24" y2="1200.2"/>
<line x1="1279.85" y1="1204" x2="1279.85" y2="1200.2"/>
<line x1="1282.59" y1="1204" x2="1282.59" y2="1200.2"/>
<line x1="1240.5" y1="1204" x2="1240.5" y2="1200.2"/>
<line x1="1301.5" y1="1204" x2="1301.5" y2="1200.2"/>
<rect x="2056.4" y="544.2" width="9.35" height="93.4"/>
<rect x="2044.5" y="541.2" width="11.9" height="99.4"/>
<line x1="2052.6" y1="541.2" x2="2052.6" y2="640.6"/>
<line x1="2056.4" y1="573.5" x2="2052.6" y2="573.5"/>
<line x1="2056.4" y1="575.49" x2="2052.6" y2="575.49"/>
<line x1="2056.4" y1="606.31" x2="2052.6" y2="606.31"/>
<line x1="2056.4" y1="608.3" x2="2052.6" y2="608.3"/>
<rect x="2056.4" y="689.5" width="9.35" height="93.5"/>
<rect x="2044.5" y="686.5" width="11.9" height="99.5"/>
<line x1="2052.6" y1="686.5" x2="2052.6" y2="786"/>
<line x1="2056.4" y1="718.84" x2="2052.6" y2="718.84"/>
<line x1="2056.4" y1="720.83" x2="2052.6" y2="720.83"/>
<line x1="2056.4" y1="751.67" x2="2052.6" y2="751.67"/>
<line x1="2056.4" y1="753.66" x2="2052.6" y2="753.66"/>
<rect x="2056.4" y="828" width="9.35" height="91.5"/>
<rect x="2044.5" y="825" width="11.9" height="97.5"/>
<line x1="2052.6" y1="825" x2="2052.6" y2="922.5"/>
<line x1="2056.4" y1="856.69" x2="2052.6" y2="856.69"/>
<line x1="2056.4" y1="858.64" x2="2052.6" y2="858.64"/>
<line x1="2056.4" y1="888.86" x2="2052.6" y2="888.86"/>
<line x1="2056.4" y1="890.81" x2="2052.6" y2="890.81"/>
<rect x="2056.4" y="968" width="9.35" height="92.75"/>
<rect x="2044.5" y="965" width="11.9" height="98.75"/>
<line x1="2052.6" y1="965" x2="2052.6" y2="1063.75"/>
<line x1="2056.4" y1="997.09" x2="2052.6" y2="997.09"/>
<line x1="2056.4" y1="999.07" x2="2052.6" y2="999.07"/>
<line x1="2056.4" y1="1029.68" x2="2052.6" y2="1029.68"/>
<line x1="2056.4" y1="1031.66" x2="2052.6" y2="1031.66"/>
<rect x="2056.4" y="1156" width="9.35" height="92.25"/>
<rect x="2044.5" y="1153" width="11.9" height="98.25"/>
<line x1="2052.6" y1="1153" x2="2052.6" y2="1251.25"/>
<line x1="2056.4" y1="1184.93" x2="2052.6" y2="1184.93"/>
<line x1="2056.4" y1="1186.9" x2="2052.6" y2="1186.9"/>
<line x1="2056.4" y1="1217.35" x2="2052.6" y2="1217.35"/>
<line x1="2056.4" y1="1219.32" x2="2052.6" y2="1219.32"/>
<rect x="2056.4" y="1362.25" width="9.35" height="91.75"/>
<rect x="2044.5" y="1359.25" width="11.9" height="97.75"/>
<line x1="2052.6" y1="1359.25" x2="2052.6" y2="1457"/>
<line x1="2056.4" y1="1391.02" x2="2052.6" y2="1391.02"/>
<line x1="2056.4" y1="1392.97" x2="2052.6" y2="1392.97"/>
<line x1="2056.4" y1="1423.28" x2="2052.6" y2="1423.28"/>
<line x1="2056.4" y1="1425.23" x2="2052.6" y2="1425.23"/>
<rect x="2056.4" y="1497.25" width="9.35" height="92.25"/>
<rect x="2044.5" y="1494.25" width="11.9" height="98.25"/>
<line x1="2052.6" y1="1494.25" x2="2052.6" y2="1592.5"/>
<line x1="2056.4" y1="1526.18" x2="2052.6" y2="1526.18"/>
<line x1="2056.4" y1="1528.15" x2="2052.6" y2="1528.15"/>
<line x1="2056.4" y1="1558.6" x2="2052.6" y2="1558.6"/>
<line x1="2056.4" y1="1560.57" x2="2052.6" y2="1560.57"/>
<rect x="2056.4" y="1638" width="9.35" height="92.75"/>
<rect x="2044.5" y="1635" width="11.9" height="98.75"/>
<line x1="2052.6" y1="1635" x2="2052.6" y2="1733.75"/>
<line x1="2056.4" y1="1667.09" x2="2052.6" y2="1667.09"/>
<line x1="2056.4" y1="1669.07" x2="2052.6" y2="1669.07"/>
<line x1="2056.4" y1="1699.68" x2="2052.6" y2="1699.68"/>
<line x1="2056.4" y1="1701.66" x2="2052.6" y2="1701.66"/>
<rect x="1357.5" y="1362.25" width="9.8" height="91.75"/>
<rect x="1367.3" y="1359.25" width="10.7" height="97.75"/>
<line x1="1371.1" y1="1359.25" x2="1371.1" y2="1457"/>
<line x1="1367.3" y1="1391.02" x2="1371.1" y2="1391.02"/>
<line x1="1367.3" y1="1392.97" x2="1371.1" y2="1392.97"/>
<line x1="1367.3" y1="1423.28" x2="1371.1" y2="1423.28"/>
<line x1="1367.3" y1="1425.23" x2="1371.1" y2="1425.23"/>
<rect x="1357.5" y="1497.25" width="9.8" height="92.25"/>
<rect x="1367.3" y="1494.25" width="10.7" height="98.25"/>
<line x1="1371.1" y1="1494.25" x2="1371.1" y2="1592.5"/>
<line x1="1367.3" y1="1526.18" x2="1371.1" y2="1526.18"/>
<line x1="1367.3" y1="1528.15" x2="1371.1" y2="1528.15"/>
<line x1="1367.3" y1="1558.6" x2="1371.1" y2="1558.6"/>
<line x1="1367.3" y1="1560.57" x2="1371.1" y2="1560.57"/>
<rect x="1357.5" y="1633.75" width="9.8" height="92"/>
<rect x="1367.3" y="1630.75" width="10.7" height="98"/>
<line x1="1371.1" y1="1630.75" x2="1371.1" y2="1728.75"/>
<line x1="1367.3" y1="1662.6" x2="1371.1" y2="1662.6"/>
<line x1="1367.3" y1="1664.56" x2="1371.1" y2="1664.56"/>
<line x1="1367.3" y1="1694.94" x2="1371.1" y2="1694.94"/>
<line x1="1367.3" y1="1696.9" x2="1371.1" y2="1696.9"/>
<rect x="889.6" y="572" width="27" height="16.2"/>
<rect x="890.6" y="577.18" width="25" height="5.51"/>
<line x1="893.1" y1="577.18" x2="893.1" y2="582.69"/>
<line x1="913.1" y1="577.18" x2="913.1" y2="582.69"/>
<rect x="1183" y="579.5" width="26.5" height="13.75"/>
<rect x="1184" y="583.9" width="24.5" height="4.68"/>
<line x1="1186.5" y1="583.9" x2="1186.5" y2="588.58"/>
<line x1="1206" y1="583.9" x2="1206" y2="588.58"/>
<rect x="911.25" y="1126.25" width="28.75" height="16.25"/>
<rect x="912.25" y="1131.45" width="26.75" height="5.53"/>
<line x1="914.75" y1="1131.45" x2="914.75" y2="1136.97"/>
<line x1="936.5" y1="1131.45" x2="936.5" y2="1136.97"/>
<rect x="1980.35" y="572" width="14.55" height="28"/>
<rect x="1985.59" y="573" width="4.95" height="26"/>
<line x1="1985.59" y1="575.5" x2="1990.54" y2="575.5"/>
<line x1="1985.59" y1="596.5" x2="1990.54" y2="596.5"/>
<rect x="1972.5" y="860" width="13.75" height="15"/>
<rect x="1977.45" y="861" width="4.68" height="13"/>
<line x1="1977.45" y1="863.5" x2="1982.12" y2="863.5"/>
<line x1="1977.45" y1="871.5" x2="1982.12" y2="871.5"/>
<rect x="1438.25" y="1670.75" width="14.25" height="14.25"/>
<rect x="1443.38" y="1671.75" width="4.85" height="12.25"/>
<line x1="1443.38" y1="1674.25" x2="1448.22" y2="1674.25"/>
<line x1="1443.38" y1="1681.5" x2="1448.22" y2="1681.5"/>
<rect x="1975" y="1668.75" width="13.75" height="13.75"/>
<rect x="1979.95" y="1669.75" width="4.68" height="11.75"/>
<line x1="1979.95" y1="1672.25" x2="1984.62" y2="1672.25"/>
<line x1="1979.95" y1="1679" x2="1984.62" y2="1679"/>
</g>
<g id="stairs" stroke="#262626" stroke-width="0.85" fill="none">
<rect x="1511.25" y="1030.5" width="50" height="94.5"/>
<path d="M1511.25 1030.5L1561.25 1125M1561.25 1030.5L1511.25 1125"/>
<path d="M1498.25 1147.5V1200.5M1512.5 1147.5V1200.5M1525.75 1147.5V1200.5M1539.5 1147.5V1200.5M1552.5 1147.5V1200.5M1566.25 1147.5V1200.5M1580 1147.5V1200.5M1593.25 1147.5V1200.5M1606.75 1147.5V1200.5M1620 1147.5V1200.5M1498.25 1200.5H1620M1498.25 1173.75H1616"/>
<path d="M1619 1173.75l-10 -4.6v9.2Z" fill="#000" stroke="none"/>
<circle cx="1498.25" cy="1173.75" r="1.1" fill="#000" stroke="none"/>
<path d="M1498.25 1217.5H1620M1498.25 1217.5V1270M1512.5 1217.5V1270M1539.6 1246.8V1270M1552.75 1241.4V1270M1565.9 1220.4V1270M1580 1217.5V1270M1593.25 1217.5V1270M1606.75 1217.5V1270M1620 1217.5V1270M1620 1243.75H1575M1512.5 1243.75H1508.75M1516.4 1270L1545.2 1241.2L1554.8 1241.5L1541.1 1235.4L1550.7 1235.6L1568.9 1217.4"/>
<circle cx="1620" cy="1243.75" r="1.1" fill="#000" stroke="none"/>
<path d="M1499.5 1243.75l10 -4.6v9.2Z" fill="#000" stroke="none"/>
<path d="M1566.75 1243.75l10 -4.6v9.2Z" fill="#000" stroke="none"/>
</g>
<g id="doors">
<path d="M952.5 580L927.5 605A35.36 35.36 0 0 1 917.14 580" fill="none" stroke="#1a1a1a" stroke-width="1.05"/>
<path d="M1147.5 586.25L1171.75 610.5A34.29 34.29 0 0 0 1181.79 586.25" fill="none" stroke="#1a1a1a" stroke-width="1.05"/>
<path d="M1211.75 914.8L1243.9 882.5A45.57 45.57 0 0 0 1211.75 869.23" fill="none" stroke="#1a1a1a" stroke-width="1.05"/>
<path d="M1382 856.75L1416.25 888.75A46.87 46.87 0 0 0 1428.87 856.75" fill="none" stroke="#1a1a1a" stroke-width="1.05"/>
<path d="M1317.4 926.6L1350.3 894.2A46.18 46.18 0 0 1 1363.55 927.97" fill="none" stroke="#1a1a1a" stroke-width="1.05"/>
<path d="M1576.8 857.9L1544 891A46.6 46.6 0 0 0 1576.8 904.5" fill="none" stroke="#1a1a1a" stroke-width="1.05"/>
<path d="M1988.4 538.2L1963 561.9A34.74 34.74 0 0 0 1985.9 572.85" fill="none" stroke="#1a1a1a" stroke-width="1.05"/>
<path d="M1980 826.25L1955 850A34.48 34.48 0 0 0 1980 860.73" fill="none" stroke="#1a1a1a" stroke-width="1.05"/>
<path d="M877 1134.25L900.5 1109.25A34.31 34.31 0 0 1 911.26 1132.46" fill="none" stroke="#1a1a1a" stroke-width="1.05"/>
<path d="M1669.25 1020L1635 1053.75A48.08 48.08 0 0 1 1621.17 1020" fill="none" stroke="#1a1a1a" stroke-width="1.05"/>
<path d="M1675.5 1265L1643 1232.5A45.96 45.96 0 0 1 1675.5 1219.04" fill="none" stroke="#1a1a1a" stroke-width="1.05"/>
<path d="M1753.75 1112.5L1721.25 1078.75A46.85 46.85 0 0 1 1753.75 1065.65" fill="none" stroke="#1a1a1a" stroke-width="1.05"/>
<path d="M1445 1636.25L1469.5 1660.5A34.47 34.47 0 0 1 1445 1670.72" fill="none" stroke="#1a1a1a" stroke-width="1.05"/>
<path d="M1981.25 1634.5L1957.5 1657.5A33.06 33.06 0 0 0 1981.25 1667.56" fill="none" stroke="#1a1a1a" stroke-width="1.05"/>
<path d="M1684.5 1466.75L1716.25 1433.75A45.79 45.79 0 0 0 1684.5 1420.96" fill="none" stroke="#1a1a1a" stroke-width="1.05"/>
<path d="M1753.75 1476.75L1722 1443.75A45.79 45.79 0 0 1 1753.75 1430.96" fill="none" stroke="#1a1a1a" stroke-width="1.05"/>
</g>
<g id="dashed" stroke="#2a2a2a" stroke-width="0.9" stroke-dasharray="13 6.5" fill="none">
<line x1="974.5" y1="841.75" x2="974.5" y2="935.5"/>
<line x1="1428.5" y1="718.75" x2="1428.5" y2="766.5"/>
<line x1="1428.5" y1="766.5" x2="1378.75" y2="766.5"/>
<line x1="1637.5" y1="753.5" x2="1684.5" y2="753.5"/>
<line x1="1684.5" y1="753.5" x2="1684.5" y2="806.25"/>
<line x1="1319" y1="1018.5" x2="1368.5" y2="1018.5"/>
<line x1="1368.5" y1="1018.5" x2="1368.5" y2="1138.75"/>
<line x1="1844.5" y1="1043.75" x2="1844.5" y2="1118.75"/>
<line x1="1845" y1="1175.5" x2="1892" y2="1175.5"/>
<line x1="1571.5" y1="1419.5" x2="1571.5" y2="1483.5"/>
<line x1="1571.5" y1="1483.5" x2="1620" y2="1483.5"/>
<line x1="1859.5" y1="1407.5" x2="1859.5" y2="1476.75"/>
</g>
<g id="areas" font-family="'Liberation Sans', sans-serif" font-size="19" fill="#4d4d4f" stroke="#4d4d4f" stroke-width="0.35">
<text x="1597.5" y="639.5" textLength="62.5" lengthAdjust="spacingAndGlyphs">13,2 м²</text>
<text x="1723" y="651.25" textLength="64.5" lengthAdjust="spacingAndGlyphs">14,0 м²</text>
<text x="1873" y="605.75" textLength="62.75" lengthAdjust="spacingAndGlyphs">14,7 м²</text>
<text x="1940.5" y="745.75" textLength="59.5" lengthAdjust="spacingAndGlyphs">11,0 м²</text>
<text x="1753" y="783.75" textLength="55.75" lengthAdjust="spacingAndGlyphs">4,9 м²</text>
<text x="1705.75" y="836.75" textLength="50.5" lengthAdjust="spacingAndGlyphs">3,7 м²</text>
<text x="1569.5" y="796.25" textLength="54.25" lengthAdjust="spacingAndGlyphs">2,9 м²</text>
<text x="1605" y="875.5" textLength="54.25" lengthAdjust="spacingAndGlyphs">5,7 м²</text>
<text transform="translate(2026.3 643.3) rotate(-90)" textLength="104" lengthAdjust="spacingAndGlyphs">1,5/(2,9) м²</text>
</g>
</svg>
</body></html>
